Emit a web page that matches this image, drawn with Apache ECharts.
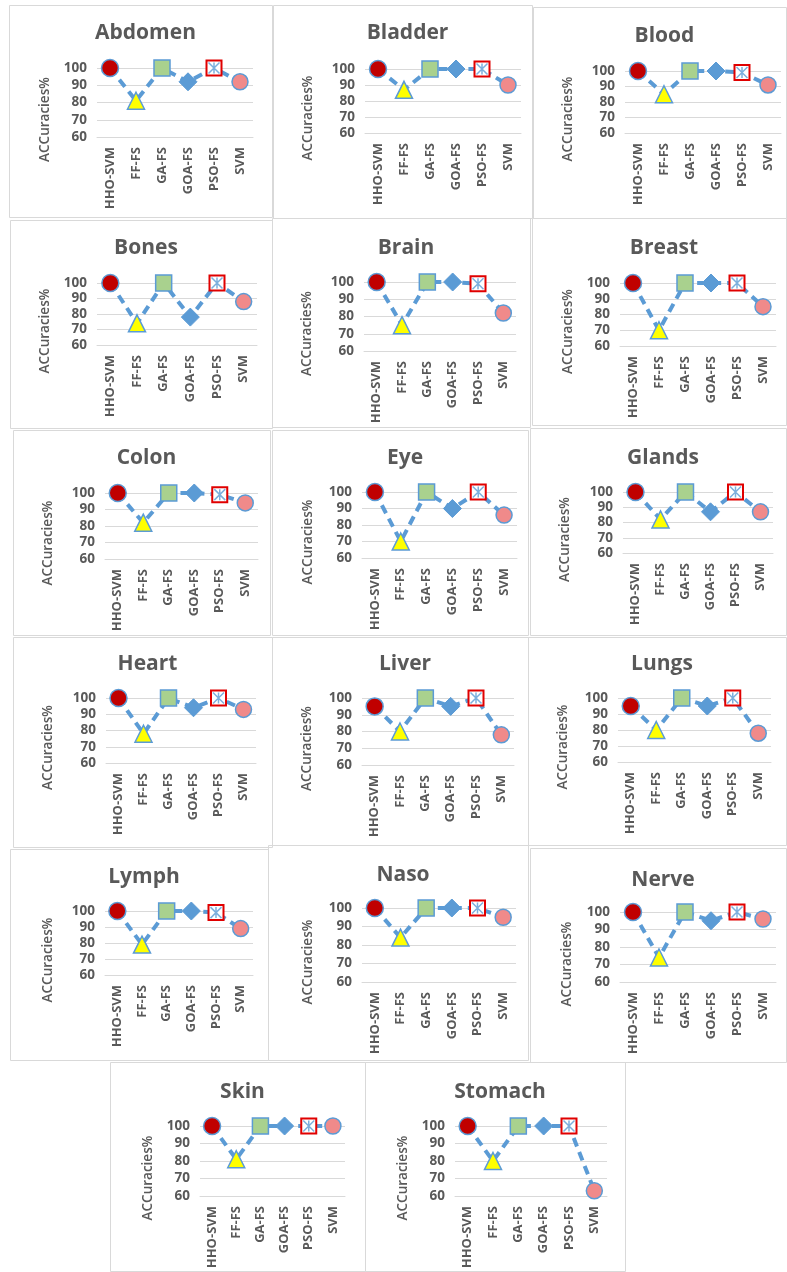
<!DOCTYPE html>
<html>
<head>
<meta charset="utf-8">
<script src="https://cdn.jsdelivr.net/npm/echarts@6/dist/echarts.min.js"></script>
<style>
html,body{margin:0;padding:0;background:#fff;}
#chart{width:787px;height:1272px;}
</style>
</head>
<body>
<div id="chart"></div>
<script>
// ---------- DATA ----------
var categories = ['HHO-SVM', 'FF-FS', 'GA-FS', 'GOA-FS', 'PSO-FS', 'SVM'];
var yTicks = [60, 70, 80, 90, 100];
var axisTitle = 'ACCuracies%';

var abdomen = [100, 81, 100, 92, 100, 92];
var bladder = [100, 87, 100, 100, 100, 90];
var blood   = [100, 85, 100, 100, 99, 91];
var bones   = [100, 74, 100, 78, 100, 88];
var brain   = [100, 75, 100, 100, 99, 82];
var breast  = [100, 70, 100, 100, 100, 85];
var colon   = [100, 82, 100, 100, 99, 94];
var eye     = [100, 70, 100, 90, 100, 86];
var glands  = [100, 82, 100, 87, 100, 87];
var heart   = [100, 78, 100, 94, 100, 93];
var liver   = [95, 80, 100, 95, 100, 78];
var lungs   = [95, 80, 100, 95, 100, 78];
var lymph   = [100, 79, 100, 100, 99, 89];
var naso    = [100, 84, 100, 100, 100, 95];
var nerve   = [100, 74, 100, 95, 100, 96];
var skin    = [100, 81, 100, 100, 100, 100];
var stomach = [100, 80, 100, 100, 100, 63];

var panelNames = ['Abdomen', 'Bladder', 'Blood', 'Bones', 'Brain', 'Breast', 'Colon', 'Eye', 'Glands',
                  'Heart', 'Liver', 'Lungs', 'Lymph', 'Naso', 'Nerve', 'Skin', 'Stomach'];
var panelValues = [abdomen, bladder, blood, bones, brain, breast, colon, eye, glands,
                   heart, liver, lungs, lymph, naso, nerve, skin, stomach];

// ---------- LAYOUT (pixel boxes) ----------
// [boxL, boxT, boxR, boxB, gridL, gridR, gridTop(100), gridBottom(60), titleY, nameX]
var layout = [
  [9, 5, 272, 217, 97, 253, 68, 137, 33, 45],
  [273, 5, 532, 218, 365, 521, 69, 133, 33, 308],
  [533, 7, 786, 218, 625, 781, 71, 133, 36, 568],
  [10, 220, 272, 428, 97, 257, 283, 345, 248, 45],
  [272, 218, 530, 427, 364, 516, 282, 351, 248, 307],
  [532, 218, 786, 425, 620, 776, 283, 346, 248, 568],
  [13, 430, 270, 635, 105, 258, 493, 559, 458, 48],
  [272, 430, 528, 635, 362, 517, 492, 558, 458, 308],
  [530, 428, 786, 635, 623, 773, 492, 553, 458, 565],
  [13, 637, 272, 847, 106, 256, 698, 763, 664, 48],
  [272, 637, 528, 845, 362, 514, 698, 765, 664, 307],
  [528, 637, 786, 845, 618, 771, 698, 762, 664, 563],
  [10, 849, 268, 1060, 105, 253, 911, 975, 877, 48],
  [268, 845, 528, 1060, 362, 516, 908, 982, 875, 308],
  [530, 848, 786, 1062, 620, 776, 912, 982, 880, 567],
  [110, 1062, 365, 1271, 200, 345, 1126, 1196, 1092, 148],
  [365, 1062, 625, 1271, 455, 607, 1126, 1196, 1092, 403]
];

// ---------- STYLE ----------
var BLUE = '#5B9BD5';
var TXT = '#595959';
var FONT = '"Open Sans", "Liberation Sans", sans-serif';

var markerStyles = [
  {symbol: 'circle', symbolSize: 17, itemStyle: {color: '#C00000', borderColor: BLUE, borderWidth: 1.5}},
  {symbol: 'triangle', symbolSize: 17, itemStyle: {color: '#FFFF00', borderColor: BLUE, borderWidth: 1.5}},
  {symbol: 'rect', symbolSize: 16, itemStyle: {color: '#A9D18E', borderColor: BLUE, borderWidth: 1.5}},
  {symbol: 'diamond', symbolSize: 18, itemStyle: {color: BLUE, borderColor: BLUE, borderWidth: 1}},
  {symbol: 'rect', symbolSize: 15, itemStyle: {color: '#FFFFFF', borderColor: '#E00000', borderWidth: 2}},
  {symbol: 'circle', symbolSize: 16, itemStyle: {color: '#F08A8A', borderColor: BLUE, borderWidth: 1.5}}
];

var option = {
  backgroundColor: '#fff',
  animation: false,
  title: [], grid: [], xAxis: [], yAxis: [], series: [], graphic: []
};

panelNames.forEach(function (name, i) {
  var L = layout[i];
  var vals = panelValues[i];
  option.graphic.push({
    type: 'rect', silent: true, z: 0,
    shape: {x: L[0] + 0.5, y: L[1] + 0.5, width: L[2] - L[0], height: L[3] - L[1]},
    style: {fill: 'none', stroke: '#D9D9D9', lineWidth: 1}
  });
  option.graphic.push({
    type: 'text', silent: true, z: 5,
    x: L[9], y: (L[6] + L[7]) / 2 + 17, rotation: Math.PI / 2,
    style: {text: axisTitle, font: '600 13.5px ' + FONT, fill: TXT, align: 'center', verticalAlign: 'middle'}
  });
  option.title.push({
    text: name,
    left: (L[0] + L[2]) / 2, top: L[8] - 15, textAlign: 'center',
    textStyle: {fontFamily: FONT, fontSize: 21, fontWeight: 'bold', color: TXT}
  });
  option.grid.push({left: L[4], top: L[6], width: L[5] - L[4], height: L[7] - L[6], containLabel: false});
  option.xAxis.push({
    type: 'category', gridIndex: i, data: categories, boundaryGap: true,
    axisLine: {show: true, lineStyle: {color: '#D9D9D9'}},
    axisTick: {show: false},
    axisLabel: {interval: 0, rotate: 90, margin: 10, fontFamily: FONT, fontSize: 13, fontWeight: 'bold', color: TXT}
  });
  option.yAxis.push({
    type: 'value', gridIndex: i, min: yTicks[0], max: yTicks[yTicks.length - 1], interval: yTicks[1] - yTicks[0],
    axisLine: {show: false}, axisTick: {show: false},
    splitLine: {show: true, lineStyle: {color: '#D9D9D9', width: 1}},
    axisLabel: {margin: 10, fontFamily: FONT, fontSize: 13.5, fontWeight: 'bold', color: TXT}
  });
  option.series.push({
    type: 'line', xAxisIndex: i, yAxisIndex: i, z: 3,
    lineStyle: {color: BLUE, width: 4, type: [9, 6]},
    emphasis: {disabled: true},
    data: vals.map(function (v, k) {
      var m = markerStyles[k];
      return {value: v, symbol: m.symbol, symbolSize: m.symbolSize, itemStyle: m.itemStyle};
    })
  });
  // asterisk inside the PSO-FS marker
  option.series.push({
    type: 'scatter', xAxisIndex: i, yAxisIndex: i, z: 4, silent: true,
    symbol: 'path://M0,0L10,10M10,0L0,10M5,0L5,10M0,0',
    symbolSize: 11,
    itemStyle: {color: 'rgba(0,0,0,0)', borderColor: BLUE, borderWidth: 1.5},
    data: vals.map(function (v, k) { return categories[k] === 'PSO-FS' ? v : '-'; })
  });
});

var chart = echarts.init(document.getElementById('chart'), null, {renderer: 'canvas'});
chart.setOption(option);
</script>
</body>
</html>
